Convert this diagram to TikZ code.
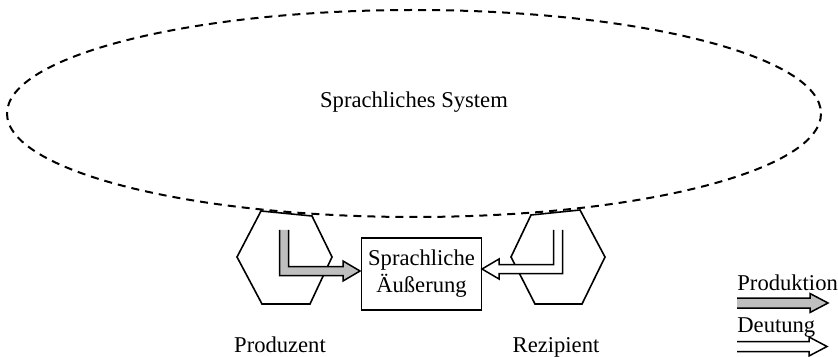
\documentclass[tikz,border=0pt]{standalone}
\usepackage{fontspec}
\setmainfont{Liberation Serif}
\usetikzlibrary{positioning}

% L-shaped block arrow: x, y top, y corner, x tip, direction (+1/-1), fill
\newcommand{\Lpfeil}[6]{%
  \draw[fill=#6, line width=.75pt, line join=miter]
    ({#1-(#5)*4.5},#2) -- ({#1-(#5)*4.5},{#3+4.5}) -- ({#4-(#5)*17},{#3+4.5})
    -- ({#4-(#5)*17},{#3+10}) -- (#4,#3) -- ({#4-(#5)*17},{#3-10})
    -- ({#4-(#5)*17},{#3-4.5}) -- ({#1+(#5)*4.5},{#3-4.5}) -- ({#1+(#5)*4.5},#2);
}
% straight block arrow for the legend: x start, y, x tip, fill
\newcommand{\Gpfeil}[4]{%
  \draw[fill=#4, line width=.75pt, line join=miter]
    (#1,{#2+5}) -- ({#3-18},{#2+5}) -- ({#3-18},{#2+9.5}) -- (#3,#2)
    -- ({#3-18},{#2-9.5}) -- ({#3-18},{#2-5}) -- (#1,{#2-5});
}

\tikzset{
    hexa/.style={line width=.8pt, line join=miter},
    label/.style={anchor=base, font=\fontsize{11.3}{13.5}\selectfont},
}

\begin{document}
\begin{tikzpicture}[x=.5pt, y=-.5pt]
\useasboundingbox (0,0) rectangle (838,357);

% sprachliches System
\draw[line width=1pt, dash pattern=on 4pt off 3pt]
      (414,113.5) ellipse [x radius=407, y radius=103.5];
\node[label] (system) at (414,107.5) {Sprachliches System};

% Produzent und Rezipient
\draw[hexa] (261,211) -- (312,216) -- (332,257) -- (310,304) -- (262,304) -- (237,257) -- cycle;
\draw[hexa] (531,215) -- (580,210) -- (605,257) -- (582,304) -- (535,304) -- (511,257) -- cycle;
\node[label] (produzent) at (280,352) {Produzent};
\node[label] (rezipient) at (556,352) {Rezipient};

\node[draw, line width=.75pt, minimum width=56.5pt, minimum height=36pt, align=center,
      font=\fontsize{11.3}{13.5}\selectfont] (aeusserung) at (421.5,274) {Sprachliche\\Äußerung};

\Lpfeil{284}{230}{271}{360}{1}{gray!50}
\Lpfeil{558}{230}{269}{482}{-1}{white}

% Legende
\node[label, anchor=base west, inner sep=0pt] (produktion) at (737,290) {Produktion};
\Gpfeil{737}{303}{828}{gray!50}
\node[label, anchor=base west, inner sep=0pt] (deutung) at (737,332) {Deutung};
\Gpfeil{737}{346.5}{827}{white}
\end{tikzpicture}
\end{document}
